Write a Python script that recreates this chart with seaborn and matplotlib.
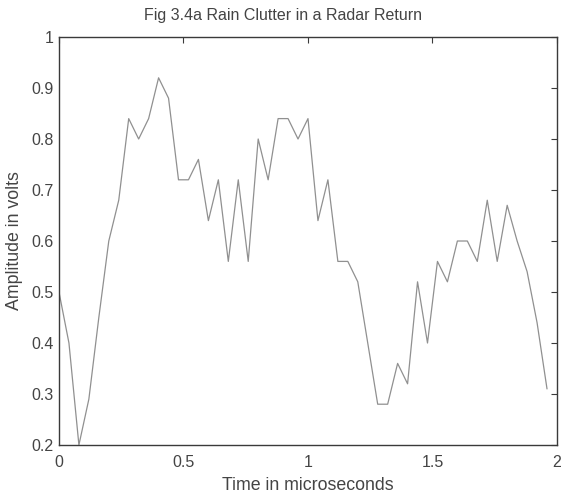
import numpy as np
import pandas as pd
import matplotlib
matplotlib.use("Agg")
import matplotlib.pyplot as plt
import seaborn as sns

# Radar return sampled every 0.04 microseconds
time_us = [0.00, 0.04, 0.08, 0.12, 0.16, 0.20, 0.24, 0.28, 0.32, 0.36,
           0.40, 0.44, 0.48, 0.52, 0.56, 0.60, 0.64, 0.68, 0.72, 0.76,
           0.80, 0.84, 0.88, 0.92, 0.96, 1.00, 1.04, 1.08, 1.12, 1.16,
           1.20, 1.24, 1.28, 1.32, 1.36, 1.40, 1.44, 1.48, 1.52, 1.56,
           1.60, 1.64, 1.68, 1.72, 1.76, 1.80, 1.84, 1.88, 1.92, 1.96]
amplitude_v = [0.50, 0.40, 0.20, 0.29, 0.45, 0.60, 0.68, 0.84, 0.80, 0.84,
               0.92, 0.88, 0.72, 0.72, 0.76, 0.64, 0.72, 0.56, 0.72, 0.56,
               0.80, 0.72, 0.84, 0.84, 0.80, 0.84, 0.64, 0.72, 0.56, 0.56,
               0.52, 0.40, 0.28, 0.28, 0.36, 0.32, 0.52, 0.40, 0.56, 0.52,
               0.60, 0.60, 0.56, 0.68, 0.56, 0.67, 0.60, 0.54, 0.44, 0.31]

x_ticks = [0, 0.5, 1, 1.5, 2]
x_tick_labels = ["0", "0.5", "1", "1.5", "2"]
y_ticks = [0.2, 0.3, 0.4, 0.5, 0.6, 0.7, 0.8, 0.9, 1.0]
y_tick_labels = ["0.2", "0.3", "0.4", "0.5", "0.6", "0.7", "0.8", "0.9", "1"]

title = "Fig 3.4a Rain Clutter in a Radar Return"
x_label = "Time in microseconds"
y_label = "Amplitude in volts"

sns.set_style("white")
plt.rcParams["font.family"] = ["Liberation Sans", "DejaVu Sans"]

text_color = "#444444"
axis_color = "#3a3a3a"

df = pd.DataFrame({"t": time_us, "a": amplitude_v})

fig = plt.figure(figsize=(5.65, 4.98), dpi=100)
ax = fig.add_axes([0.1044, 0.1064, 0.8814, 0.8193])

sns.lineplot(data=df, x="t", y="a", ax=ax, color="#909090", linewidth=0.9)

ax.set_xlim(0, 2)
ax.set_ylim(0.2, 1.0)
ax.set_xticks(x_ticks)
ax.set_xticklabels(x_tick_labels)
ax.set_yticks(y_ticks)
ax.set_yticklabels(y_tick_labels)

ax.tick_params(direction="in", length=4, width=0.8, colors=axis_color,
               labelcolor=text_color, labelsize=11.5,
               top=True, right=True, pad=4)
ax.tick_params(axis="x", pad=7)
for spine in ax.spines.values():
    spine.set_visible(True)
    spine.set_color(axis_color)
    spine.set_linewidth(1.0)

ax.set_title(title, fontsize=11.5, color=text_color, pad=12, x=0.449)
ax.set_xlabel(x_label, fontsize=12.8, color=text_color, labelpad=5)
ax.set_ylabel(y_label, fontsize=12.8, color=text_color, labelpad=6)

fig.savefig("out.png", dpi=100, facecolor="white")
